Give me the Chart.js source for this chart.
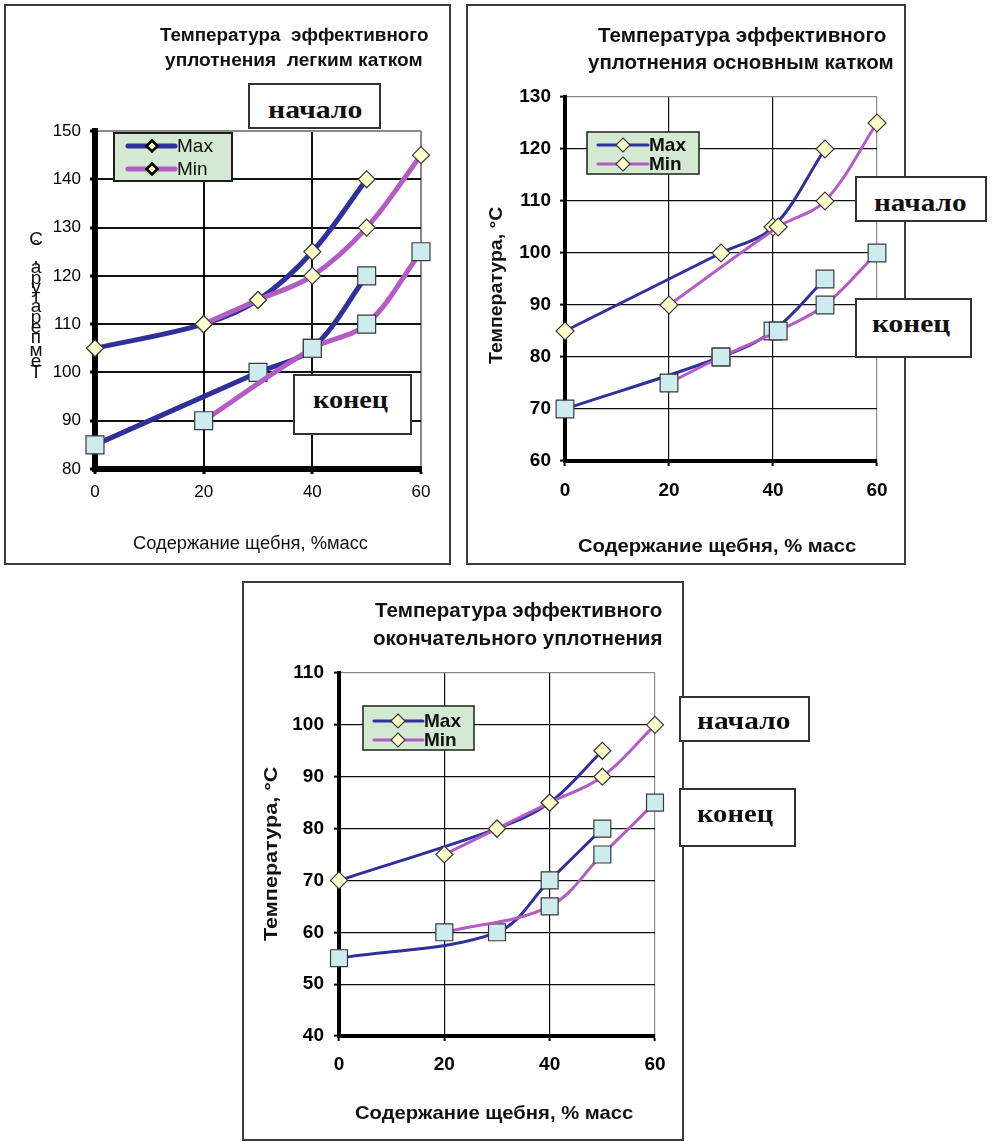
<!DOCTYPE html>
<html>
<head>
<meta charset="utf-8">
<script src="https://cdn.jsdelivr.net/npm/chart.js@4.4.1/dist/chart.umd.min.js"></script>
<style>
body { margin: 0; background: #fff; width: 993px; height: 1142px; position: relative; overflow: hidden; }
.panel { position: absolute; border: 2px solid #3c3c3c; box-sizing: border-box; background: #fff; }
canvas { position: absolute; }
.box { position: absolute; background: #fff; border: 2px solid #333; box-sizing: border-box; }
.t { position: absolute; white-space: pre; line-height: 1; transform-origin: 0 0; color: #111; }
</style>
</head>
<body>
<div class="panel" style="left:4px;top:4px;width:447px;height:561px"></div>
<div class="panel" style="left:466px;top:4px;width:440px;height:561px"></div>
<div class="panel" style="left:242px;top:581px;width:442px;height:560px"></div>
<canvas id="light" width="444" height="558" style="left:5px;top:5px"></canvas>
<canvas id="main" width="438" height="558" style="left:467px;top:5px"></canvas>
<canvas id="final" width="440" height="558" style="left:243px;top:582px"></canvas>
<script>
// ---- data: light roller ----
const xLightMaxStart = [0, 20, 30, 40, 50];
const yLightMaxStart = [105, 110, 115, 125, 140];
const xLightMinStart = [20, 30, 40, 50, 60];
const yLightMinStart = [110, 115, 120, 130, 145];
const xLightMaxEnd = [0, 30, 40, 50];
const yLightMaxEnd = [85, 100, 105, 120];
const xLightMinEnd = [20, 40, 50, 60];
const yLightMinEnd = [90, 105, 110, 125];

// ---- data: main roller ----
const xMainMaxStart = [0, 30, 40, 50];
const yMainMaxStart = [85, 100, 105, 120];
const xMainMinStart = [20, 41, 50, 60];
const yMainMinStart = [90, 105, 110, 125];
const xMainMaxEnd = [0, 30, 40, 50];
const yMainMaxEnd = [70, 80, 85, 95];
const xMainMinEnd = [20, 30, 41, 50, 60];
const yMainMinEnd = [75, 80, 85, 90, 100];

// ---- data: final compaction ----
const xFinalMaxStart = [0, 30, 40, 50];
const yFinalMaxStart = [70, 80, 85, 95];
const xFinalMinStart = [20, 30, 40, 50, 60];
const yFinalMinStart = [75, 80, 85, 90, 100];
const xFinalMaxEnd = [0, 30, 40, 50];
const yFinalMaxEnd = [55, 60, 70, 80];
const xFinalMinEnd = [20, 40, 50, 60];
const yFinalMinEnd = [60, 65, 75, 85];

const seriesNames = ['Max', 'Min'];
const yLightRange = [80, 150];
const yMainRange = [60, 130];
const yFinalRange = [40, 110];
const xRange = [0, 60];

const BLUE = '#30309a';
const MAGENTA = '#b45cc6';

// legend box, and the stacked axis title of the first panel
const decoPlugin = {
    id: 'deco',
    afterDatasetsDraw(chart, args, o) {
        const ctx = chart.ctx;
        const L = o.legend;
        ctx.save();
        ctx.translate(-o.offset[0], -o.offset[1]);
        ctx.fillStyle = '#d3e9d1';
        ctx.fillRect(L.box[0], L.box[1], L.box[2] - L.box[0], L.box[3] - L.box[1]);
        ctx.lineWidth = L.frame;
        ctx.strokeStyle = '#1e1e1e';
        ctx.strokeRect(L.box[0], L.box[1], L.box[2] - L.box[0], L.box[3] - L.box[1]);
        for (let i = 0; i < 2; i++) {
            const d = chart.data.datasets[i];
            const y = L.rows[i];
            ctx.strokeStyle = d.borderColor;
            ctx.lineWidth = L.lw;
            ctx.lineCap = 'round';
            ctx.beginPath();
            ctx.moveTo(L.sw[0], y);
            ctx.lineTo(L.sw[1], y);
            ctx.stroke();
            ctx.beginPath();
            ctx.moveTo(L.mx, y - L.r);
            ctx.lineTo(L.mx + L.r, y);
            ctx.lineTo(L.mx, y + L.r);
            ctx.lineTo(L.mx - L.r, y);
            ctx.closePath();
            ctx.fillStyle = '#ffffcc';
            ctx.fill();
            ctx.lineWidth = L.mw;
            ctx.strokeStyle = L.mc;
            ctx.stroke();
            ctx.fillStyle = '#111';
            ctx.font = L.font;
            ctx.textAlign = 'left';
            ctx.textBaseline = 'middle';
            ctx.fillText(d.label, L.tx, y + 1);
        }
        if (o.stack) {
            const s = o.stack;
            ctx.font = s.font;
            ctx.fillStyle = '#111';
            ctx.textAlign = 'center';
            ctx.textBaseline = 'alphabetic';
            const chars = Array.from(s.text);
            const adv = chars.map(c => ctx.measureText(c).width);
            const total = adv.slice(0, -1).reduce((a, b) => a + b, 0);
            const k = (s.bottom - s.topBase) / total;
            let y = s.bottom;
            chars.forEach((c, i) => {
                ctx.fillText(c, s.x, y);
                y -= adv[i] * k;
            });
        }
        ctx.restore();
    }
};

function series(xs, ys, name, color, isStart, P, order) {
    return {
        label: name,
        data: xs.map((x, i) => ({ x: x, y: ys[i] })),
        borderColor: color,
        borderWidth: P.lineW,
        borderCapStyle: 'round',
        borderJoinStyle: 'round',
        tension: 0.35,
        fill: false,
        clip: false,
        order: order,
        pointStyle: isStart ? 'rectRot' : 'rect',
        pointRadius: isStart ? P.diamondR : P.squareR,
        pointBackgroundColor: isStart ? '#ffffcc' : '#cdecef',
        pointBorderColor: '#3a3a3a',
        pointBorderWidth: 1.2
    };
}

function makeChart(id, P, sets, yRange, deco) {
    const tickFont = { family: 'Liberation Sans', size: P.tickSize, weight: P.tickWeight };
    const edgeOr = (max, c) => ctx => (ctx.tick && ctx.tick.value === max ? P.edge : c);
    return new Chart(document.getElementById(id), {
        type: 'line',
        data: {
            datasets: [
                series(sets[0], sets[1], seriesNames[0], BLUE, true, P, 4),
                series(sets[2], sets[3], seriesNames[1], MAGENTA, true, P, 3),
                series(sets[4], sets[5], seriesNames[0], BLUE, false, P, 2),
                series(sets[6], sets[7], seriesNames[1], MAGENTA, false, P, 1)
            ]
        },
        options: {
            responsive: false,
            animation: false,
            devicePixelRatio: 1,
            layout: { padding: { left: 0, top: P.top, right: P.right, bottom: 0 } },
            plugins: { legend: { display: false }, tooltip: { enabled: false }, deco: deco },
            scales: {
                x: {
                    type: 'linear', min: xRange[0], max: xRange[1],
                    afterFit: s => { s.height = P.xH; },
                    ticks: { stepSize: 20, color: '#000', font: tickFont, padding: P.xPad, maxRotation: 0 },
                    grid: { color: edgeOr(xRange[1], '#111'), lineWidth: P.gridW, tickLength: 5, tickColor: '#000', tickWidth: P.tickW },
                    border: { display: true, color: '#000', width: P.axisW }
                },
                y: {
                    type: 'linear', min: yRange[0], max: yRange[1],
                    afterFit: s => { s.width = P.yW; },
                    ticks: { stepSize: 10, color: '#000', font: tickFont, padding: P.yPad },
                    grid: { color: edgeOr(yRange[1], '#111'), lineWidth: P.gridW, tickLength: 5, tickColor: '#000', tickWidth: P.tickW },
                    border: { display: true, color: '#000', width: P.axisW }
                }
            }
        },
        plugins: [decoPlugin]
    });
}

makeChart('light', {
    top: 126, right: 28, yW: 90, xH: 94, xPad: 8, yPad: 9,
    lineW: 5, diamondR: 8.5, squareR: 12.7, gridW: 2, tickW: 3, axisW: 6, edge: '#8a8a8a',
    tickSize: 17, tickWeight: 'normal'
}, [xLightMaxStart, yLightMaxStart, xLightMinStart, yLightMinStart,
    xLightMaxEnd, yLightMaxEnd, xLightMinEnd, yLightMinEnd], yLightRange, {
    offset: [5, 5],
    legend: { box: [114, 133, 232, 181], sw: [128, 175], mx: 152, r: 5.5, mw: 2.5, mc: '#000',
              tx: 177, rows: [146, 169], lw: 5, frame: 2, font: '19px "Liberation Sans"' },
    stack: { text: 'Температура, °C', x: 36, bottom: 378, topBase: 245, font: '19px "Liberation Sans"' }
});

makeChart('main', {
    top: 92, right: 28, yW: 98, xH: 102, xPad: 13, yPad: 9,
    lineW: 3, diamondR: 9, squareR: 12.5, gridW: 1.2, tickW: 2, axisW: 4, edge: '#8a8a8a',
    tickSize: 19, tickWeight: 'bold'
}, [xMainMaxStart, yMainMaxStart, xMainMinStart, yMainMinStart,
    xMainMaxEnd, yMainMaxEnd, xMainMinEnd, yMainMinEnd], yMainRange, {
    offset: [467, 5],
    legend: { box: [587, 132, 699, 174], sw: [598, 648], mx: 623, r: 7, mw: 1.2, mc: '#3a3a3a',
              tx: 649, rows: [145, 164], lw: 3, frame: 1.5, font: 'bold 19px "Liberation Sans"' }
});

makeChart('final', {
    top: 91, right: 28, yW: 96, xH: 104, xPad: 12, yPad: 10,
    lineW: 3, diamondR: 8.5, squareR: 12, gridW: 1.2, tickW: 2, axisW: 4, edge: '#8a8a8a',
    tickSize: 19, tickWeight: 'bold'
}, [xFinalMaxStart, yFinalMaxStart, xFinalMinStart, yFinalMinStart,
    xFinalMaxEnd, yFinalMaxEnd, xFinalMinEnd, yFinalMinEnd], yFinalRange, {
    offset: [243, 582],
    legend: { box: [363, 706, 474, 750], sw: [374, 423], mx: 398, r: 7, mw: 1.2, mc: '#3a3a3a',
              tx: 424, rows: [721, 740], lw: 3, frame: 1.5, font: 'bold 19px "Liberation Sans"' }
});

// text boxes "начало" / "конец"
const boxes = [
    [248, 83, 381, 129], [293, 374, 412, 435],
    [855, 176, 987, 222], [855, 298, 972, 358],
    [679, 696, 810, 742], [679, 788, 796, 847]
];
boxes.forEach(b => {
    const d = document.createElement('div');
    d.className = 'box';
    d.style.left = b[0] + 'px';
    d.style.top = b[1] + 'px';
    d.style.width = (b[2] - b[0]) + 'px';
    d.style.height = (b[3] - b[1]) + 'px';
    document.body.appendChild(d);
});

// titles and labels: [text, x, baseline, size, width, weight, family, rotated]
const SANS = '"Liberation Sans", Arial, sans-serif';
const SERIF = '"Liberation Serif", "Times New Roman", serif';
const labels = [
    ['Температура  эффективного', 160, 41, 18, 268, 'bold', SANS, false],
    ['уплотнения  легким катком', 165, 66, 18, 258, 'bold', SANS, false],
    ['Содержание щебня, %масс', 133, 549, 18, 235, 'normal', SANS, false],
    ['начало', 268, 119, 26, 94, 'bold', SERIF, false],
    ['конец', 313, 409, 26, 75, 'bold', SERIF, false],

    ['Температура эффективного', 598, 42, 20, 288, 'bold', SANS, false],
    ['уплотнения основным катком', 588, 69, 20, 306, 'bold', SANS, false],
    ['Содержание щебня, % масс', 578, 552, 19, 278, 'bold', SANS, false],
    ['Температура, °C', 502, 364, 19, 157, 'bold', SANS, true],
    ['начало', 874, 212, 26, 92, 'bold', SERIF, false],
    ['конец', 872, 333, 26, 78, 'bold', SERIF, false],

    ['Температура эффективного', 375, 617, 20, 287, 'bold', SANS, false],
    ['окончательного уплотнения', 373, 645, 20, 289, 'bold', SANS, false],
    ['Содержание щебня, % масс', 355, 1119, 19, 278, 'bold', SANS, false],
    ['Температура, °C', 277, 941, 19, 174, 'bold', SANS, true],
    ['начало', 697, 730, 26, 93, 'bold', SERIF, false],
    ['конец', 697, 823, 26, 76, 'bold', SERIF, false]
];
labels.forEach(l => {
    const d = document.createElement('div');
    d.className = 't';
    d.textContent = l[0];
    d.style.fontSize = l[3] + 'px';
    d.style.fontWeight = l[5];
    d.style.fontFamily = l[6];
    const asc = l[6] === SERIF ? 0.838 : 0.846;
    if (l[7]) {
        d.style.left = (l[1] - asc * l[3]) + 'px';
        d.style.top = l[2] + 'px';
    } else {
        d.style.left = l[1] + 'px';
        d.style.top = (l[2] - asc * l[3]) + 'px';
    }
    document.body.appendChild(d);
    const k = l[4] / d.offsetWidth;
    d.style.transform = (l[7] ? 'rotate(-90deg) ' : '') + 'scaleX(' + k + ')';
});
</script>
</body>
</html>
